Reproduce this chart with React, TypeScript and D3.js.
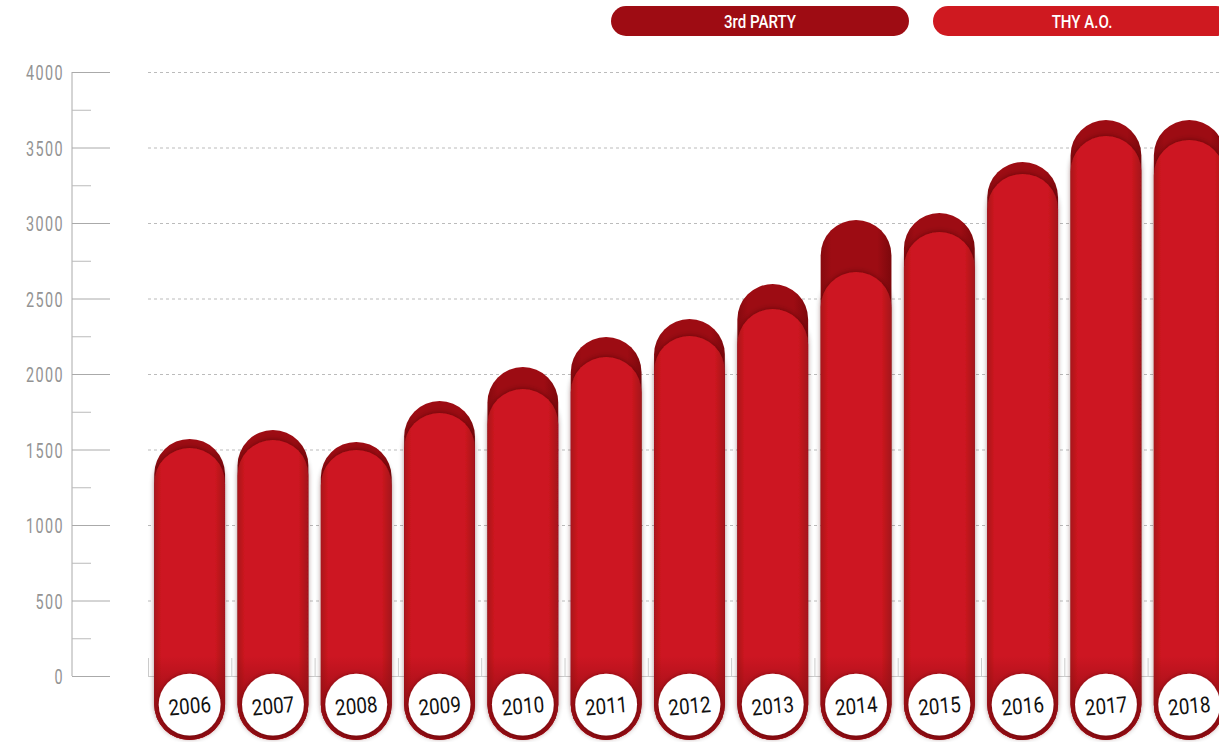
import React from 'react';
import * as d3 from 'd3';

// values
const years = ['2006', '2007', '2008', '2009', '2010', '2011', '2012', '2013', '2014', '2015', '2016', '2017', '2018'];
const thyValues = [1510, 1563, 1497, 1742, 1901, 2113, 2252, 2430, 2675, 2940, 3325, 3576, 3550];
const thirdPartyValues = [60, 66, 53, 79, 145, 132, 112, 166, 345, 126, 79, 106, 132];
const yTicks = [0, 500, 1000, 1500, 2000, 2500, 3000, 3500, 4000];
const legendLabels = ['3rd PARTY', 'THY A.O.'];

const W = 1219;
const H = 742;
const DARK = '#9d0c13';
const RED = '#cd1820';
const font = 'Roboto, "DejaVu Sans", sans-serif';

function App() {
  const y = d3.scaleLinear().domain([0, 4000]).range([676, 72]);
  const x = d3.scaleBand<string>().domain(years).range([148, 148 + 83.3 * years.length]).paddingInner(0.15).paddingOuter(0.075);
  const minorTicks = d3.range(250, 4000, 500);
  const bottom = y(0) + 64;

  // pill-shaped bar: rounded on top and bottom
  const pill = (x0: number, w: number, top: number) => {
    const r = w / 2;
    const p = d3.path();
    p.moveTo(x0, top + r);
    p.arc(x0 + r, top + r, r, Math.PI, 0);
    p.lineTo(x0 + w, bottom - r);
    p.arc(x0 + r, bottom - r, r, 0, Math.PI);
    p.closePath();
    return p.toString();
  };

  return (
    <svg width={W} height={H} style={{ position: 'fixed', left: 0, top: 0, background: '#fff' }}>
      <defs>
        <linearGradient id="redH" x1="0" x2="1" y1="0" y2="0">
          <stop offset="0" stopColor="#a9121a" />
          <stop offset="0.1" stopColor={RED} />
          <stop offset="0.86" stopColor={RED} />
          <stop offset="1" stopColor="#a3111a" />
        </linearGradient>
        <linearGradient id="darkH" x1="0" x2="1" y1="0" y2="0">
          <stop offset="0" stopColor="#860a0f" />
          <stop offset="0.15" stopColor={DARK} />
          <stop offset="0.8" stopColor={DARK} />
          <stop offset="1" stopColor="#7c080c" />
        </linearGradient>
        <linearGradient id="bottomV" gradientUnits="userSpaceOnUse" x1="0" x2="0" y1={y(0) - 20} y2={bottom}>
          <stop offset="0" stopColor="#8c0b12" stopOpacity="0" />
          <stop offset="0.55" stopColor="#920c13" stopOpacity="0.7" />
          <stop offset="1" stopColor="#8a0b11" stopOpacity="1" />
        </linearGradient>
        <filter id="capShadow" x="-20%" y="-20%" width="140%" height="140%">
          <feDropShadow dx="0" dy="-1" stdDeviation="2.5" floodColor="#3a0003" floodOpacity="0.45" />
        </filter>
        <filter id="circleShadow" x="-30%" y="-30%" width="160%" height="160%">
          <feDropShadow dx="0" dy="0" stdDeviation="2" floodColor="#400004" floodOpacity="0.5" />
        </filter>
      </defs>

      {/* legend */}
      {legendLabels.map((label, i) => {
        const lx = i === 0 ? 611 : 933;
        return (
          <g key={label}>
            <rect x={lx} y={6} width={298} height={30} rx={15} fill={i === 0 ? '#9e0c13' : '#cf1920'} />
            <text transform={`translate(${lx + 149},28) scale(0.84,1)`} textAnchor="middle" fill="#fff"
              fontSize={18} fontWeight={500} fontFamily={font}>{label}</text>
          </g>
        );
      })}

      {/* y axis */}
      <line x1={72} x2={72} y1={y(4000)} y2={y(0)} stroke="#aaa" strokeWidth={1} />
      {yTicks.map((t) => (
        <g key={t}>
          <line x1={72} x2={110} y1={y(t) + 0.5} y2={y(t) + 0.5} stroke="#aaa" />
          <text transform={`translate(64,${y(t) + 8}) scale(0.72,1)`} textAnchor="end" fill="#939393"
            fontSize={20} fontFamily={font} fontWeight={400} letterSpacing={2}>{t}</text>
          {t > 0 && (
            <line x1={148} x2={W} y1={y(t) + 0.5} y2={y(t) + 0.5} stroke="#bbb" strokeDasharray="3,3" />
          )}
        </g>
      ))}
      {minorTicks.map((t) => (
        <line key={t} x1={72} x2={91} y1={y(t) + 0.5} y2={y(t) + 0.5} stroke="#bbb" />
      ))}

      {/* baseline with category separators */}
      <line x1={148} x2={W} y1={y(0) + 0.5} y2={y(0) + 0.5} stroke="#ccc" />
      {years.map((yr) => (
        <line key={yr} x1={(x(yr) as number) - x.step() * 0.075 + 0.5} x2={(x(yr) as number) - x.step() * 0.075 + 0.5}
          y1={y(0) - 18} y2={y(0)} stroke="#ccc" />
      ))}

      {/* bars */}
      {years.map((yr, i) => {
        const bx = x(yr) as number;
        const bw = x.bandwidth();
        const total = thyValues[i] + thirdPartyValues[i];
        const cx = bx + bw / 2;
        const cy = bottom - bw / 2;
        return (
          <g key={yr}>
            <path d={pill(bx, bw, y(total))} fill="url(#darkH)" />
            <path d={pill(bx, bw, y(thyValues[i]))} fill="url(#redH)" filter="url(#capShadow)" />
            <path d={pill(bx, bw, y(thyValues[i]))} fill="url(#bottomV)" />
            <circle cx={cx} cy={cy} r={bw / 2 - 4.5} fill="#fff" filter="url(#circleShadow)" />
            <text transform={`rotate(-5 ${cx} ${cy}) translate(${cx},${cy + 9}) scale(0.86,1)`} textAnchor="middle"
              fontSize={22} fontWeight={400} fill="#111" fontFamily={font}>{yr}</text>
          </g>
        );
      })}
    </svg>
  );
}

export default App;
